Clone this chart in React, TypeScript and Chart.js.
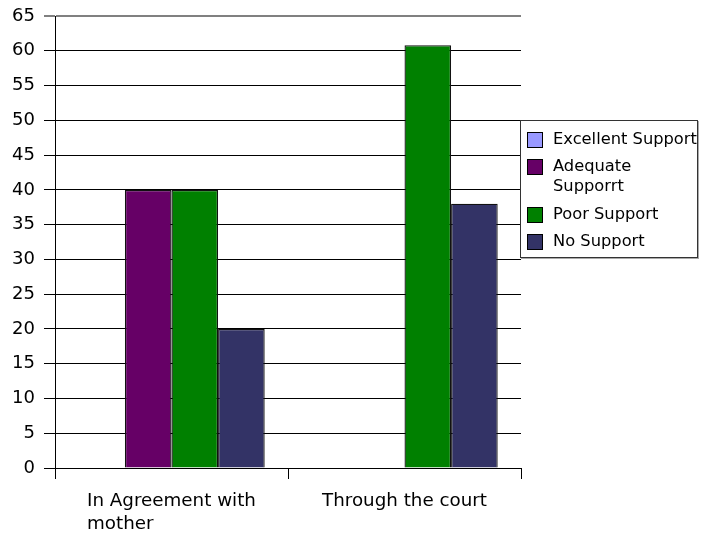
import React, { useEffect, useRef } from "react";
import { Chart, registerables } from "chart.js";

Chart.register(...registerables);

const categories: (string | string[])[] = [["In Agreement with", "mother"], "Through the court"];
const seriesNames = ["Excellent Support", "Adequate Supporrt", "Poor Support", "No Support"];
const seriesColors = ["#9999ff", "#660066", "#008000", "#333366"];
const excellentSupport = [0, 0];
const adequateSupport = [40, 0];
const poorSupport = [40, 60.8];
const noSupport = [20, 38];
const yTicks = [0, 5, 10, 15, 20, 25, 30, 35, 40, 45, 50, 55, 60, 65];

const FONT = "DejaVu Sans";

const xLabelPlugin = {
  id: "xLabelPlugin",
  afterDraw(chart: any) {
    const { ctx, scales } = chart;
    const xs = scales.x;
    ctx.save();
    ctx.font = `18.3px "${FONT}"`;
    ctx.fillStyle = "#000";
    ctx.textAlign = "left";
    ctx.textBaseline = "alphabetic";
    categories.forEach((lab, i) => {
      const lines = Array.isArray(lab) ? lab : [lab];
      const cx = xs.getPixelForValue(i);
      const w = ctx.measureText(lines[0]).width;
      const left = cx - w / 2;
      lines.forEach((ln, j) => {
        ctx.fillText(ln, left, 506 + j * 23);
      });
    });
    ctx.restore();
  },
};

export default function App() {
  const ref = useRef<HTMLCanvasElement>(null);
  useEffect(() => {
    if (!ref.current) return;
    const data = [excellentSupport, adequateSupport, poorSupport, noSupport];
    const chart = new Chart(ref.current, {
      type: "bar",
      data: {
        labels: categories as any,
        datasets: seriesNames.map((n, i) => ({
          label: n,
          data: data[i],
          backgroundColor: seriesColors[i],
          borderColor: "#111",
          borderWidth: 1.3,
          borderSkipped: "bottom" as any,
        })),
      },
      options: {
        responsive: false,
        animation: false,
        layout: { padding: { top: 16, right: 180, left: 0, bottom: 0 } },
        plugins: { legend: { display: false }, tooltip: { enabled: false } },
        datasets: { bar: { categoryPercentage: 0.8, barPercentage: 1 } },
        scales: {
          x: {
            grid: {
              display: true,
              drawOnChartArea: false,
              tickLength: 11,
              color: "#000",
              offset: true,
            },
            border: { display: true, color: "#000" },
            ticks: { display: false },
            afterFit(scale: any) {
              scale.height = 67;
              scale.paddingLeft = 0;
              scale.paddingRight = 0;
            },
          },
          y: {
            min: 0,
            max: 65,
            afterBuildTicks(scale: any) {
              scale.ticks = yTicks.map((v) => ({ value: v }));
            },
            grid: {
              color: (c: any) => (c.tick && c.tick.value === 65 ? "#808080" : "#000"),
              lineWidth: (c: any) => (c.tick && c.tick.value === 65 ? 2 : 1),
              tickLength: 11,
            },
            border: { display: true, color: "#000" },
            ticks: {
              font: { family: FONT, size: 18 },
              color: "#000",
              padding: 9,
            },
            afterFit(scale: any) {
              scale.width = 55;
              scale.paddingTop = 0;
              scale.paddingBottom = 0;
            },
          },
        },
      },
      plugins: [xLabelPlugin],
    });
    return () => chart.destroy();
  }, []);

  const legendStyle: React.CSSProperties = {
    position: "absolute",
    left: 520,
    top: 120,
    width: 176,
    height: 136,
    border: "1px solid #333",
    boxShadow: "1px 1px 0 #aaa",
    background: "#fff",
    fontFamily: FONT,
    fontSize: 16.3,
    color: "#000",
    boxSizing: "content-box",
    paddingTop: 0,
  };
  const tops = [8, 35, 83, 110];
  return (
    <div style={{ position: "fixed", left: 0, top: 0, width: 701, height: 535, background: "#fff" }}>
      <canvas ref={ref} width={701} height={535} style={{ display: "block" }} />
      <div style={legendStyle}>
        {seriesNames.map((n, i) => (
          <div key={n} style={{ position: "absolute", left: 6, top: tops[i], display: "flex", alignItems: "flex-start" }}>
            <div
              style={{
                width: 14,
                height: 14,
                marginTop: 3,
                background: seriesColors[i],
                border: "1px solid #000",
                flexShrink: 0,
              }}
            />
            <div style={{ marginLeft: 10, width: 148, lineHeight: "20px" }}>{n}</div>
          </div>
        ))}
      </div>
    </div>
  );
}
